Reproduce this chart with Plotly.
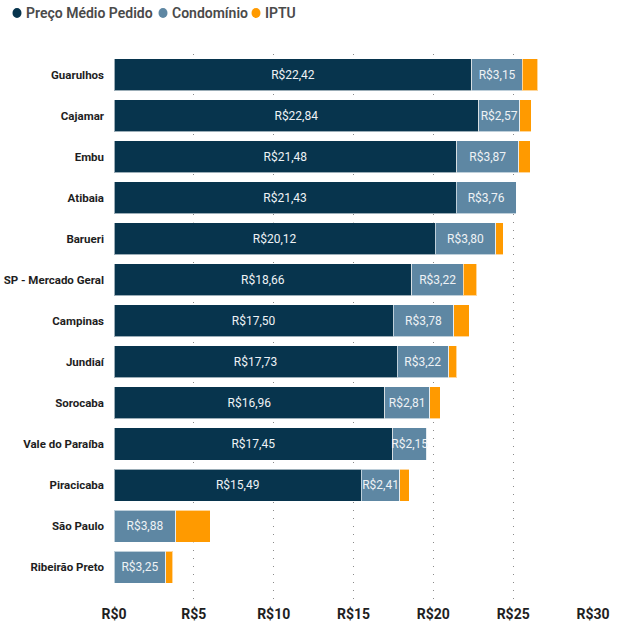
import plotly.graph_objects as go

cities = ["Guarulhos", "Cajamar", "Embu", "Atibaia", "Barueri", "SP - Mercado Geral",
          "Campinas", "Jundiaí", "Sorocaba", "Vale do Paraíba", "Piracicaba",
          "São Paulo", "Ribeirão Preto"]
preco = [22.42, 22.84, 21.48, 21.43, 20.12, 18.66, 17.50, 17.73, 16.96, 17.45, 15.49, 0, 0]
condominio = [3.15, 2.57, 3.87, 3.76, 3.80, 3.22, 3.78, 3.22, 2.81, 2.15, 2.41, 3.88, 3.25]
iptu = [0.97, 0.71, 0.71, 0, 0.47, 0.85, 0.97, 0.51, 0.65, 0, 0.60, 2.14, 0.42]

names = ["Preço Médio Pedido", "Condomínio", "IPTU"]
colors = ["#07344D", "#5E87A3", "#FF9A00"]
FONT = "Roboto"

W, H = 619, 627
L, R, T, B = 114, 26, 54, 27

def fmt(v):
    return ("R$" + f"{v:.2f}".replace(".", ",")) if v > 0 else ""

fig = go.Figure()
for vals, name, col, lab in [(preco, names[0], colors[0], True),
                             (condominio, names[1], colors[1], True),
                             (iptu, names[2], colors[2], False)]:
    fig.add_trace(go.Bar(
        y=cities, x=vals, orientation="h", name=name, showlegend=False,
        marker=dict(color=col, line=dict(color="rgba(255,255,255,0.6)", width=1)),
        text=[fmt(v) for v in vals] if lab else None,
        texttemplate="%{text}" if lab else None,
        textposition="inside" if lab else "none",
        insidetextanchor="middle", textangle=0, constraintext="none",
        insidetextfont=dict(color="#EEF2F5", size=12, family=FONT),
    ))

# legend drawn as circle shapes + text annotations
pw = W - L - R
def px(x):
    return (x - L) / pw
ly = 1 + (T - 13) / (H - T - B)
leg = [(17, 24, names[0], colors[0]), (163, 170, names[1], colors[1]),
       (256, 263, names[2], colors[2])]
for cx, tx, name, col in leg:
    fig.add_shape(type="circle", xref="paper", yref="paper",
                  xsizemode="pixel", ysizemode="pixel",
                  xanchor=px(cx), yanchor=ly, x0=-4.5, x1=4.5, y0=-5, y1=5,
                  fillcolor=col, line=dict(width=0))
    fig.add_annotation(x=px(tx), y=ly, xref="paper", yref="paper",
                       xanchor="left", yanchor="middle", showarrow=False,
                       text=name,
                       font=dict(size=14, color="#4A4A4A", family=FONT, weight=600))

fig.update_layout(
    width=W, height=H, barmode="stack", bargap=0.22,
    plot_bgcolor="white", paper_bgcolor="white",
    margin=dict(l=L, r=R, t=T, b=B, autoexpand=False),
    font=dict(family=FONT),
    showlegend=False,
    xaxis=dict(range=[0, 30], dtick=5, tickprefix="R$", showgrid=True,
               gridcolor="#8a8a8a", griddash="1px,7px", gridwidth=1, zeroline=False,
               tickfont=dict(size=14, color="#1E1E1E", family=FONT, weight="bold"),
               ticks="", showline=False, ticklabelstandoff=4),
    yaxis=dict(range=[12.8, -0.5], showgrid=False, ticks="", ticklabelstandoff=9,
               tickfont=dict(size=11.5, color="#1E1E1E", family=FONT, weight="bold")),
    hovermode=False,
)
fig.write_html("out.html")
